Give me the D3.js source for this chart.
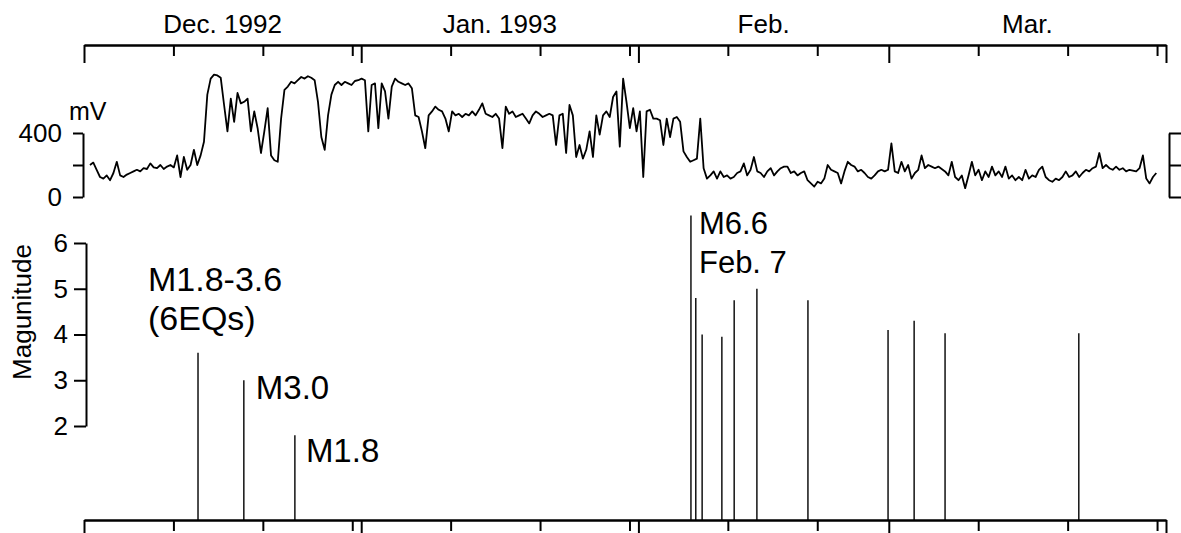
<!DOCTYPE html>
<html>
<head>
<meta charset="utf-8">
<script src="https://cdn.jsdelivr.net/npm/d3@7"></script>
<style>
  body { margin: 0; background: #fff; }
  svg { display: block; font-family: "Liberation Sans", Arial, sans-serif; }
  .axis path, .axis line { stroke: #000; stroke-width: 2; }
  .axis text { font-size: 26px; fill: #000; font-family: "Liberation Sans", Arial, sans-serif; }
</style>
</head>
<body>
<svg width="1181" height="533"></svg>
<script>
var months = ["1992-12-01", "1993-01-01", "1993-02-01", "1993-03-01", "1993-04-01"];
var monthLabels = ["Dec. 1992", "Jan. 1993", "Feb.", "Mar."];

// geoelectric potential, one reading every 9 hours
var voltageStart = "1992-12-01T16:00";
var voltageStepHours = 9;
var voltage = [
  200,215,170,125,115,135,105,150,220,135,125,140,150,160,170,160,180,175,210,185,
  180,200,175,190,200,185,260,125,250,170,200,295,200,260,345,640,740,765,760,745,
  575,410,615,470,650,
  585,595,615,410,535,430,275,410,555,260,230,220,490,670,690,720,710,730,750,740,
  755,745,730,595,375,295,510,640,700,720,700,720,710,700,725,730,740,730,410,700,
  710,430,710,660,490,690,740,
  720,710,700,710,680,510,500,410,305,510,535,565,545,535,490,410,535,510,520,500,
  520,510,535,510,545,585,520,510,500,520,490,305,565,520,535,500,510,520,490,460,
  510,535,520,500,510,520,
  510,325,510,520,275,575,510,250,325,240,295,410,250,510,390,510,535,500,625,660,
  315,740,595,430,555,410,535,125,535,545,490,490,480,325,490,375,490,500,470,285,
  250,220,230,240,490,180,115,
  135,160,115,160,125,135,115,125,150,160,210,135,170,250,160,150,125,160,180,135,
  160,180,190,190,150,160,135,150,160,105,85,65,95,85,115,200,170,160,150,85,
  160,220,200,190,160,170,
  150,125,115,135,160,170,160,170,335,160,150,220,160,200,115,150,170,260,180,200,
  190,180,190,175,160,135,220,125,105,135,55,135,220,135,170,105,160,125,190,135,
  160,125,190,115,135,105,125,
  105,170,115,135,125,170,190,125,105,95,115,105,125,160,125,135,160,125,150,170,
  160,180,190,275,180,200,180,170,190,170,180,160,170,165,160,180,260,115,85,125,
  150
];
var mvTicks = [0, 200, 400];

var quakeTimes = [
  "1992-12-13T18:00", "1992-12-18T21:00", "1992-12-24T14:00",
  "1993-02-06T21:00", "1993-02-07T10:00", "1993-02-08T03:00", "1993-02-10T08:00",
  "1993-02-11T17:00", "1993-02-14T06:00", "1993-02-19T23:00", "1993-02-28T22:00",
  "1993-03-03T20:00", "1993-03-07T07:00", "1993-03-22T06:00"
];
var quakeMags = [3.6, 3.0, 1.8, 6.6, 4.8, 4.0, 3.95, 4.75, 5.0, 4.75, 4.1, 4.3, 4.03, 4.03];
var magTicks = [2, 3, 4, 5, 6];

var parseDay = d3.utcParse("%Y-%m-%d"),
    parseTime = d3.utcParse("%Y-%m-%dT%H:%M");

var svg = d3.select("svg"),
    left = 84, right = 1166,
    topAxisY = 45, bottomAxisY = 520;

svg.append("rect").attr("width", 1181).attr("height", 533).attr("fill", "#fff");

var monthDates = months.map(parseDay);
var x = d3.scaleUtc()
    .domain([monthDates[0], monthDates[monthDates.length - 1]])
    .range([left, right]);

var yV = d3.scaleLinear().domain([0, 400]).range([197, 133]);
var yM = d3.scaleLinear().domain([2, 6]).range([426, 243]);

// day ticks: 1st of month long, 11/21/31 short
var days = d3.utcDay.range(x.domain()[0], d3.utcDay.offset(x.domain()[1], 1));
var majorTicks = days.filter(function(d) { return d.getUTCDate() === 1; });
var minorTicks = days.filter(function(d) { return [11, 21, 31].indexOf(d.getUTCDate()) >= 0; });

function timeAxes(y) {
  svg.append("g")
      .attr("class", "axis")
      .attr("transform", "translate(0," + y + ")")
      .call(d3.axisBottom(x).tickValues(minorTicks).tickSize(11).tickSizeOuter(0).tickFormat(""));
  svg.append("g")
      .attr("class", "axis")
      .attr("transform", "translate(0," + y + ")")
      .call(d3.axisBottom(x).tickValues(majorTicks).tickSize(18).tickSizeOuter(0).tickFormat(""));
}
timeAxes(topAxisY);
timeAxes(bottomAxisY);

svg.selectAll(".month")
  .data(monthLabels)
  .enter().append("text")
    .attr("class", "month")
    .attr("x", function(d, i) {
      return (x(monthDates[i]) + x(monthDates[i + 1])) / 2;
    })
    .attr("y", 33)
    .attr("text-anchor", "middle")
    .attr("font-size", 26)
    .text(function(d) { return d; });

// voltage panel
svg.append("g")
    .attr("class", "axis")
    .attr("transform", "translate(83,0)")
    .call(d3.axisLeft(yV).tickValues(mvTicks).tickSize(10).tickSizeOuter(0).tickPadding(11)
      .tickFormat(function(d) { return d === 200 ? "" : d; }));

svg.append("g")
    .attr("class", "axis")
    .attr("transform", "translate(1169,0)")
    .call(d3.axisRight(yV).tickValues(mvTicks).tickSize(12).tickSizeOuter(0).tickFormat(""));

svg.append("text")
    .attr("x", 69)
    .attr("y", 120)
    .attr("font-size", 25)
    .text("mV");

var t0 = parseTime(voltageStart);
var line = d3.line()
    .x(function(d, i) { return x(d3.utcHour.offset(t0, i * voltageStepHours)); })
    .y(function(d) { return yV(d); });

svg.append("path")
    .datum(voltage)
    .attr("fill", "none")
    .attr("stroke", "#000")
    .attr("stroke-width", 1.8)
    .attr("stroke-linejoin", "round")
    .attr("d", line);

// magnitude panel
svg.append("g")
    .attr("class", "axis")
    .attr("transform", "translate(86,0)")
    .call(d3.axisLeft(yM).tickValues(magTicks).tickSize(12).tickSizeOuter(0).tickPadding(6)
      .tickFormat(d3.format("d")));

svg.append("text")
    .attr("transform", "translate(31,312) rotate(-90)")
    .attr("text-anchor", "middle")
    .attr("font-size", 26)
    .text("Magunitude");

var quakes = quakeTimes.map(function(t, i) {
  return {time: parseTime(t), mag: quakeMags[i]};
});

svg.selectAll(".quake")
  .data(quakes)
  .enter().append("line")
    .attr("class", "quake")
    .attr("x1", function(d) { return x(d.time); })
    .attr("x2", function(d) { return x(d.time); })
    .attr("y1", bottomAxisY)
    .attr("y2", function(d) { return yM(d.mag); })
    .attr("stroke", "#000")
    .attr("stroke-width", 1.4);

// annotations hang off their quake line
function note(q, dx, dy, lines, size) {
  var d = quakes[q];
  svg.append("g")
      .attr("transform", "translate(" + (x(d.time) + dx) + "," + (yM(d.mag) + dy) + ")")
    .selectAll("text")
    .data(lines)
    .enter().append("text")
      .attr("y", function(t, i) { return i * 39; })
      .attr("font-size", size)
      .text(function(t) { return t; });
}
note(0, -50, -62, ["M1.8-3.6", "(6EQs)"], 34);
note(1, 12, 19, ["M3.0"], 33);
note(2, 11, 27, ["M1.8"], 33);
note(3, 8, 18, ["M6.6", "Feb. 7"], 31);
</script>
</body>
</html>
